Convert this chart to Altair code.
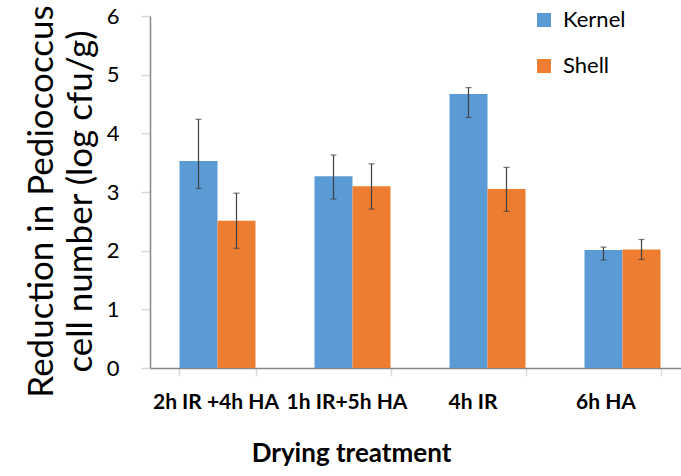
import altair as alt
import pandas as pd

treatments = ["2h IR +4h HA", "1h IR+5h HA", "4h IR", "6h HA"]
parts = ["Kernel", "Shell"]
kernel_mean = [3.53, 3.27, 4.67, 2.01]
kernel_lo = [3.06, 2.88, 4.27, 1.84]
kernel_hi = [4.24, 3.63, 4.78, 2.06]
shell_mean = [2.51, 3.10, 3.05, 2.02]
shell_lo = [2.04, 2.71, 2.67, 1.85]
shell_hi = [2.98, 3.48, 3.42, 2.19]
colors = ["#5B9BD5", "#ED7D31"]

rows = []
for i, t in enumerate(treatments):
    rows.append({"treatment": t, "part": "Kernel", "value": kernel_mean[i], "lo": kernel_lo[i], "hi": kernel_hi[i]})
    rows.append({"treatment": t, "part": "Shell", "value": shell_mean[i], "lo": shell_lo[i], "hi": shell_hi[i]})
df = pd.DataFrame(rows)

FONT = "Lato"

x_enc = alt.X(
    "treatment:N",
    sort=treatments,
    scale=alt.Scale(range=[0, 540], paddingInner=0.437, paddingOuter=0.2185),
    axis=alt.Axis(
        title="Drying treatment",
        titleFont=FONT, titleFontSize=26, titleFontWeight="bold", titleColor="#000000",
        titleX=201, titleY=93, titleAlign="center", titleBaseline="alphabetic",
        labelFont=FONT, labelFontSize=21, labelFontWeight="bold", labelColor="#000000",
        labelAngle=0, labelPadding=15, labelBaseline="top",
        labelOffset={"condition": [
            {"test": "datum.value == '1h IR+5h HA'", "value": -6},
            {"test": "datum.value == '4h IR'", "value": -15},
            {"test": "datum.value == '6h HA'", "value": -17},
        ], "value": -2},
        domainColor="#868686", domainWidth=1.5,
        ticks=True, tickBand="extent", tickSize=8, tickColor="#D9D9D9", tickWidth=1.5,
        labelOverlap=False, labelLimit=300,
    ),
)
xo_enc = alt.XOffset("part:N", sort=parts, scale=alt.Scale(paddingInner=0, paddingOuter=0))
y_scale = alt.Scale(domain=[0, 6], nice=False)

bars = alt.Chart(df).mark_bar().encode(
    x=x_enc,
    xOffset=xo_enc,
    y=alt.Y(
        "value:Q",
        scale=y_scale,
        axis=alt.Axis(
            title=["Reduction in Pediococcus", "cell number (log cfu/g)"],
            titleFont=FONT, titleFontSize=35, titleFontWeight="normal", titleColor="#000000",
            titleLineHeight=39, titleX=-126, titleY=185, titleAlign="center", titleBaseline="top",
            titleAngle=-90,
            values=[0, 1, 2, 3, 4, 5, 6], format="d",
            labelFont=FONT, labelFontSize=22, labelColor="#000000", labelPadding=22,
            domainColor="#868686", domainWidth=1.5,
            tickSize=9, tickColor="#D9D9D9", tickWidth=1.5,
            grid=False,
        ),
    ),
    color=alt.Color(
        "part:N",
        sort=parts,
        scale=alt.Scale(domain=parts, range=colors),
        legend=alt.Legend(
            title=None, orient="none", legendX=383, legendY=-7, direction="vertical",
            symbolType="square", symbolSize=196, symbolStrokeWidth=0, symbolOpacity=1,
            labelFont=FONT, labelFontSize=22, labelColor="#000000", labelOffset=8,
            rowPadding=24,
        ),
    ),
)

rules = alt.Chart(df).mark_rule(color="#404040", strokeWidth=1.2).encode(
    x=alt.X("treatment:N", sort=treatments),
    xOffset=alt.XOffset("part:N", sort=parts),
    y=alt.Y("lo:Q", scale=y_scale),
    y2="hi:Q",
)
cap_lo = alt.Chart(df).mark_tick(color="#404040", size=6, thickness=1.2, orient="horizontal").encode(
    x=alt.X("treatment:N", sort=treatments),
    xOffset=alt.XOffset("part:N", sort=parts),
    y=alt.Y("lo:Q", scale=y_scale),
)
cap_hi = alt.Chart(df).mark_tick(color="#404040", size=6, thickness=1.2, orient="horizontal").encode(
    x=alt.X("treatment:N", sort=treatments),
    xOffset=alt.XOffset("part:N", sort=parts),
    y=alt.Y("hi:Q", scale=y_scale),
)

chart = alt.layer(bars, rules, cap_lo, cap_hi).properties(
    width=531,
    height=352,
    autosize=alt.AutoSizeParams(type="none"),
    padding={"left": 150, "top": 16, "right": 0, "bottom": 108},
    background="#FFFFFF",
).configure_view(stroke=None)

chart.save("out.html", embed_options={"renderer": "svg", "actions": False})
